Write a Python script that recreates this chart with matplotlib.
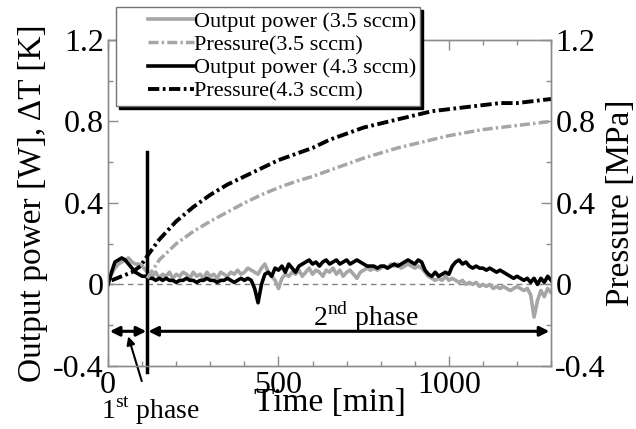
import numpy as np
import matplotlib
matplotlib.use("Agg")
import matplotlib.pyplot as plt
from matplotlib.legend_handler import HandlerLine2D
from matplotlib.ticker import MultipleLocator

plt.rcParams['font.family'] = ['Liberation Serif', 'DejaVu Serif']
plt.rcParams['mathtext.fontset'] = 'custom'
plt.rcParams['mathtext.rm'] = 'Liberation Serif'

# ---------------- data ----------------
t_power = np.arange(0, 1301, 10)
power_43 = [0.00, 0.06, 0.11, 0.12, 0.13, 0.12, 0.10, 0.08, 0.06, 0.05,
            0.04, 0.04, 0.03, 0.03, 0.02, 0.03, 0.02, 0.03, 0.02, 0.02,
            0.01, 0.02, 0.02, 0.03, 0.02, 0.02, 0.01, 0.02, 0.02, 0.03,
            0.02, 0.02, 0.01, 0.02, 0.02, 0.03, 0.02, 0.01, 0.02, 0.03,
            0.02, 0.03, 0.02, -0.02, -0.09, 0.00, 0.05, 0.06, 0.04, 0.08,
            0.07, 0.09, 0.06, 0.10, 0.08, 0.06, 0.09, 0.10, 0.11, 0.12,
            0.10, 0.11, 0.09, 0.11, 0.12, 0.10, 0.11, 0.12, 0.10, 0.11,
            0.12, 0.10, 0.11, 0.12, 0.11, 0.10, 0.09, 0.09, 0.09, 0.08,
            0.09, 0.09, 0.08, 0.09, 0.10, 0.09, 0.10, 0.11, 0.12, 0.11,
            0.10, 0.12, 0.11, 0.07, 0.05, 0.04, 0.06, 0.04, 0.05, 0.06,
            0.05, 0.09, 0.11, 0.12, 0.10, 0.11, 0.09, 0.08, 0.09, 0.08,
            0.08, 0.07, 0.08, 0.07, 0.06, 0.07, 0.06, 0.05, 0.04, 0.03,
            0.04, 0.03, 0.02, 0.03, 0.01, 0.03, 0.00, 0.03, 0.01, 0.04,
            0.02]
power_35 = [0.03, 0.05, 0.08, 0.10, 0.11, 0.12, 0.13, 0.11, 0.10, 0.10,
            0.09, 0.07, 0.05, 0.04, 0.06, 0.03, 0.05, 0.04, 0.06, 0.03,
            0.05, 0.04, 0.06, 0.05, 0.03, 0.06, 0.04, 0.05, 0.03, 0.06,
            0.04, 0.05, 0.03, 0.06, 0.05, 0.04, 0.06, 0.05, 0.07, 0.05,
            0.06, 0.08, 0.07, 0.06, 0.05, 0.08, 0.10, 0.06, 0.04, 0.02,
            -0.02, 0.03, 0.05, 0.04, 0.06, 0.05, 0.07, 0.04, 0.06, 0.08,
            0.05, 0.07, 0.06, 0.04, 0.07, 0.06, 0.08, 0.05, 0.07, 0.04,
            0.06, 0.07, 0.05, 0.03, 0.06, 0.07, 0.08, 0.07, 0.08, 0.07,
            0.08, 0.09, 0.08, 0.10, 0.09, 0.10, 0.08, 0.09, 0.10, 0.09,
            0.08, 0.09, 0.08, 0.06, 0.04, 0.03, 0.02, 0.03, 0.02, 0.04,
            0.02, 0.03, 0.02, 0.01, 0.02, 0.00, 0.01, 0.00, 0.01, -0.01,
            0.00, -0.01, 0.00, -0.02, -0.01, -0.02, -0.01, -0.02, -0.03, -0.02,
            -0.01, -0.02, -0.03, -0.02, -0.05, -0.16, -0.08, -0.03, -0.06, -0.02,
            -0.04]

t_p43 = [10, 40, 70, 95, 115, 150, 200, 250, 300, 350, 400, 450, 500, 550, 600,
         650, 700, 750, 800, 850, 900, 950, 1000, 1050, 1100, 1150, 1200, 1250, 1300]
pressure_43 = [0.02, 0.04, 0.06, 0.09, 0.14, 0.22, 0.31, 0.38, 0.44, 0.49, 0.53, 0.57,
               0.61, 0.64, 0.67, 0.71, 0.74, 0.77, 0.79, 0.81, 0.83, 0.85, 0.86, 0.87,
               0.88, 0.89, 0.89, 0.90, 0.91]
t_p35 = [115, 150, 200, 250, 300, 350, 400, 450, 500, 550, 600, 650, 700, 750, 800,
         850, 900, 950, 1000, 1050, 1100, 1150, 1200, 1250, 1300]
pressure_35 = [0.03, 0.12, 0.20, 0.26, 0.31, 0.355, 0.40, 0.44, 0.475, 0.505, 0.53, 0.56,
               0.59, 0.62, 0.645, 0.67, 0.69, 0.71, 0.73, 0.745, 0.76, 0.77, 0.78, 0.79, 0.80]

phase_split = 115
phase_end = 1295
labels = ['Output power (3.5 sccm)', 'Pressure(3.5 sccm)',
          'Output power (4.3 sccm)', 'Pressure(4.3 sccm)']

# ---------------- figure ----------------
fig = plt.figure(figsize=(6.36, 4.29), dpi=100)
ax = fig.add_axes([0.170, 0.147, 0.6965, 0.760])
ax2 = ax.twinx()

gray = '0.65'
spine_c = '0.55'
dash_pat = (2.9, 0.9, 0.7, 0.9)

ax.axhline(0, color='0.5', lw=1.0, ls=(0, (4, 3)), zorder=1)
l1, = ax.plot(t_power, power_35, color=gray, lw=2.6, zorder=2)
l3, = ax.plot(t_power, power_43, color='k', lw=2.6, zorder=3)
l2, = ax2.plot(t_p35, pressure_35, color=gray, lw=2.5, dashes=dash_pat)
l4, = ax2.plot(t_p43, pressure_43, color='k', lw=2.8, dashes=dash_pat)

for a in (ax, ax2):
    a.set_xlim(0, 1300)
    a.set_ylim(-0.4, 1.2)
    a.yaxis.set_major_locator(MultipleLocator(0.4))
    a.yaxis.set_minor_locator(MultipleLocator(0.2))
    for s in a.spines.values():
        s.set_color(spine_c)
        s.set_linewidth(1.0)

ax.xaxis.set_major_locator(MultipleLocator(500))
ax.xaxis.set_minor_locator(MultipleLocator(100))
ax.set_xticks([0, 500, 1000])
ax.set_xticklabels(['0', '500', '1000'])
yt = [-0.4, 0, 0.4, 0.8, 1.2]
ytl = ['-0.4', '0', '0.4', '0.8', '1.2']
ax.set_yticks(yt)
ax.set_yticklabels(ytl)
ax2.set_yticks(yt)
ax2.set_yticklabels(ytl)

ax.tick_params(which='both', direction='in', top=True, right=False,
               color=spine_c, labelcolor='k', labelsize=23, pad=3)
ax.tick_params(which='major', length=7, width=1)
ax.tick_params(which='minor', length=3.5, width=1)
ax.tick_params(axis='x', pad=4)
ax2.tick_params(which='both', direction='in', color=spine_c, labelcolor='k',
                labelsize=23, pad=3)
ax2.tick_params(which='major', length=7, width=1)
ax2.tick_params(which='minor', length=3.5, width=1)

ax.set_xlabel('Time [min]', fontsize=24, labelpad=-9)
ax.set_ylabel('Output power [W], ΔT [K]', fontsize=24, labelpad=4)
ax2.set_ylabel('Pressure [MPa]', fontsize=24, labelpad=0)

# phase markers
ax.plot([phase_split, phase_split], [-0.43, 0.65], color='k', lw=2.5,
        clip_on=False, zorder=5)
ap = dict(arrowstyle='<|-|>', color='k', lw=2.2, mutation_scale=14,
          shrinkA=0, shrinkB=0)
ax.annotate('', xy=(5, -0.23), xytext=(phase_split - 3, -0.23), arrowprops=ap)
ax.annotate('', xy=(phase_split + 3, -0.23), xytext=(phase_end, -0.23), arrowprops=ap)
ax.text(755, -0.16, '2$^{\\mathrm{nd}}$ phase', fontsize=20, ha='center', va='center')
ax.annotate('1$^{\\mathrm{st}}$ phase', xy=(59, -0.255), xytext=(125, -0.62),
            fontsize=20, ha='center', va='center', annotation_clip=False,
            arrowprops=dict(arrowstyle='-|>', color='k', lw=1.5,
                            mutation_scale=12, shrinkA=8, shrinkB=0))


class OffsetLine(HandlerLine2D):
    def get_xdata(self, legend, xdescent, ydescent, width, height, fontsize):
        x0 = -xdescent + 0.38 * width
        x1 = -xdescent + width
        return np.array([x0, x1]), np.array([x0, x1])


leg = fig.legend([l1, l2, l3, l4], labels, loc='upper left',
                 bbox_to_anchor=(0.182, 0.984), bbox_transform=fig.transFigure,
                 borderaxespad=0, fontsize=16, frameon=True, fancybox=False,
                 edgecolor='0.45', framealpha=1, borderpad=0.2, labelspacing=0.12,
                 handlelength=3.3, handletextpad=0.0,
                 handler_map={matplotlib.lines.Line2D: OffsetLine()},
                 shadow={'color': 'k', 'alpha': 1})
leg.get_frame().set_linewidth(1.0)

fig.savefig('out.png', dpi=100)
